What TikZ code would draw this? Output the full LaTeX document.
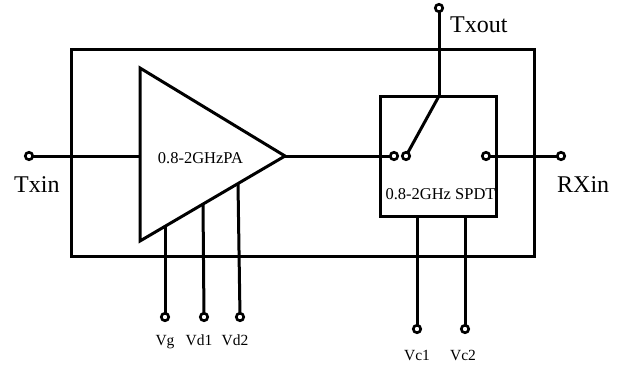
\documentclass[tikz,border=0pt]{standalone}
\usepackage{fontspec}
\setmainfont{Liberation Serif}
\begin{document}
\begin{tikzpicture}[x=1pt,y=-1pt,
  wire/.style={line width=3pt,line join=miter},
  term/.style={circle,draw,line width=2.6pt,fill=white,minimum size=7.5pt,inner sep=0pt,outer sep=0pt},
  big/.style={inner sep=0pt,font=\fontsize{24}{26}\selectfont},
  small/.style={inner sep=0pt,font=\fontsize{16.5}{18}\selectfont},
  tiny/.style={inner sep=0pt,font=\fontsize{15.5}{18}\selectfont}]
\useasboundingbox (0,0) rectangle (621,365);
\fill[white] (0,0) rectangle (621,365);
\coordinate (bnw) at (71,49);
\coordinate (bse) at (534,256);
\draw[wire] (bnw) rectangle (bse);
% terminals
\node[term] (txin) at (29,156) {};
\node[term] (txout) at (439,8) {};
\node[term] (rxin) at (561,156) {};
\node[term] (sa) at (394,156) {};
\node[term] (sb) at (406,156) {};
\node[term] (sc) at (486,156) {};
\node[term] (vg) at (165,317) {};
\node[term] (vd1) at (204,317) {};
\node[term] (vd2) at (240,317) {};
\node[term] (vc1) at (417,329) {};
\node[term] (vc2) at (465,329) {};
% anchors
\coordinate (pain) at (140,156);
\coordinate (paout) at (285,156);
\coordinate (pg) at (165,227);
\coordinate (pd1) at (203,204);
\coordinate (pd2) at (238,184);
\coordinate (hub) at (439,96);
\coordinate (c1) at (417,216);
\coordinate (c2) at (465,216);
% shapes
\draw[wire,fill=white] (140,68) -- (285,156) -- (140,241) -- cycle;
\draw[wire] (380,96) rectangle (496,216);
% connectors
\draw[wire] (txin) -- (pain);
\draw[wire] (paout) -- (sa);
\draw[wire] (txout) -- (hub);
\draw[wire] (hub) -- (sb);
\draw[wire] (sc) -- (rxin);
\draw[wire] (pg) -- (vg);
\draw[wire] (pd1) -- (vd1);
\draw[wire] (pd2) -- (vd2);
\draw[wire] (c1) -- (vc1);
\draw[wire] (c2) -- (vc2);
% labels
\node[big,anchor=base west] (ltxout) at (450,32) {Txout};
\node[big,anchor=base west] (ltxin) at (14,192) {Txin};
\node[big,anchor=base west] (lrxin) at (557,192) {RXin};
\node[small,anchor=base] (lpa) at (200.5,163.5) {0.8-2GHzPA};
\node[small,anchor=base] (lsw) at (440.5,199) {0.8-2GHz SPDT};
\node[tiny,anchor=base] (lvg) at (165,345) {Vg};
\node[tiny,anchor=base] (lvd1) at (199,345) {Vd1};
\node[tiny,anchor=base] (lvd2) at (235,345) {Vd2};
\node[tiny,anchor=base] (lvc1) at (417,360) {Vc1};
\node[tiny,anchor=base] (lvc2) at (463,360) {Vc2};
\end{tikzpicture}
\end{document}
